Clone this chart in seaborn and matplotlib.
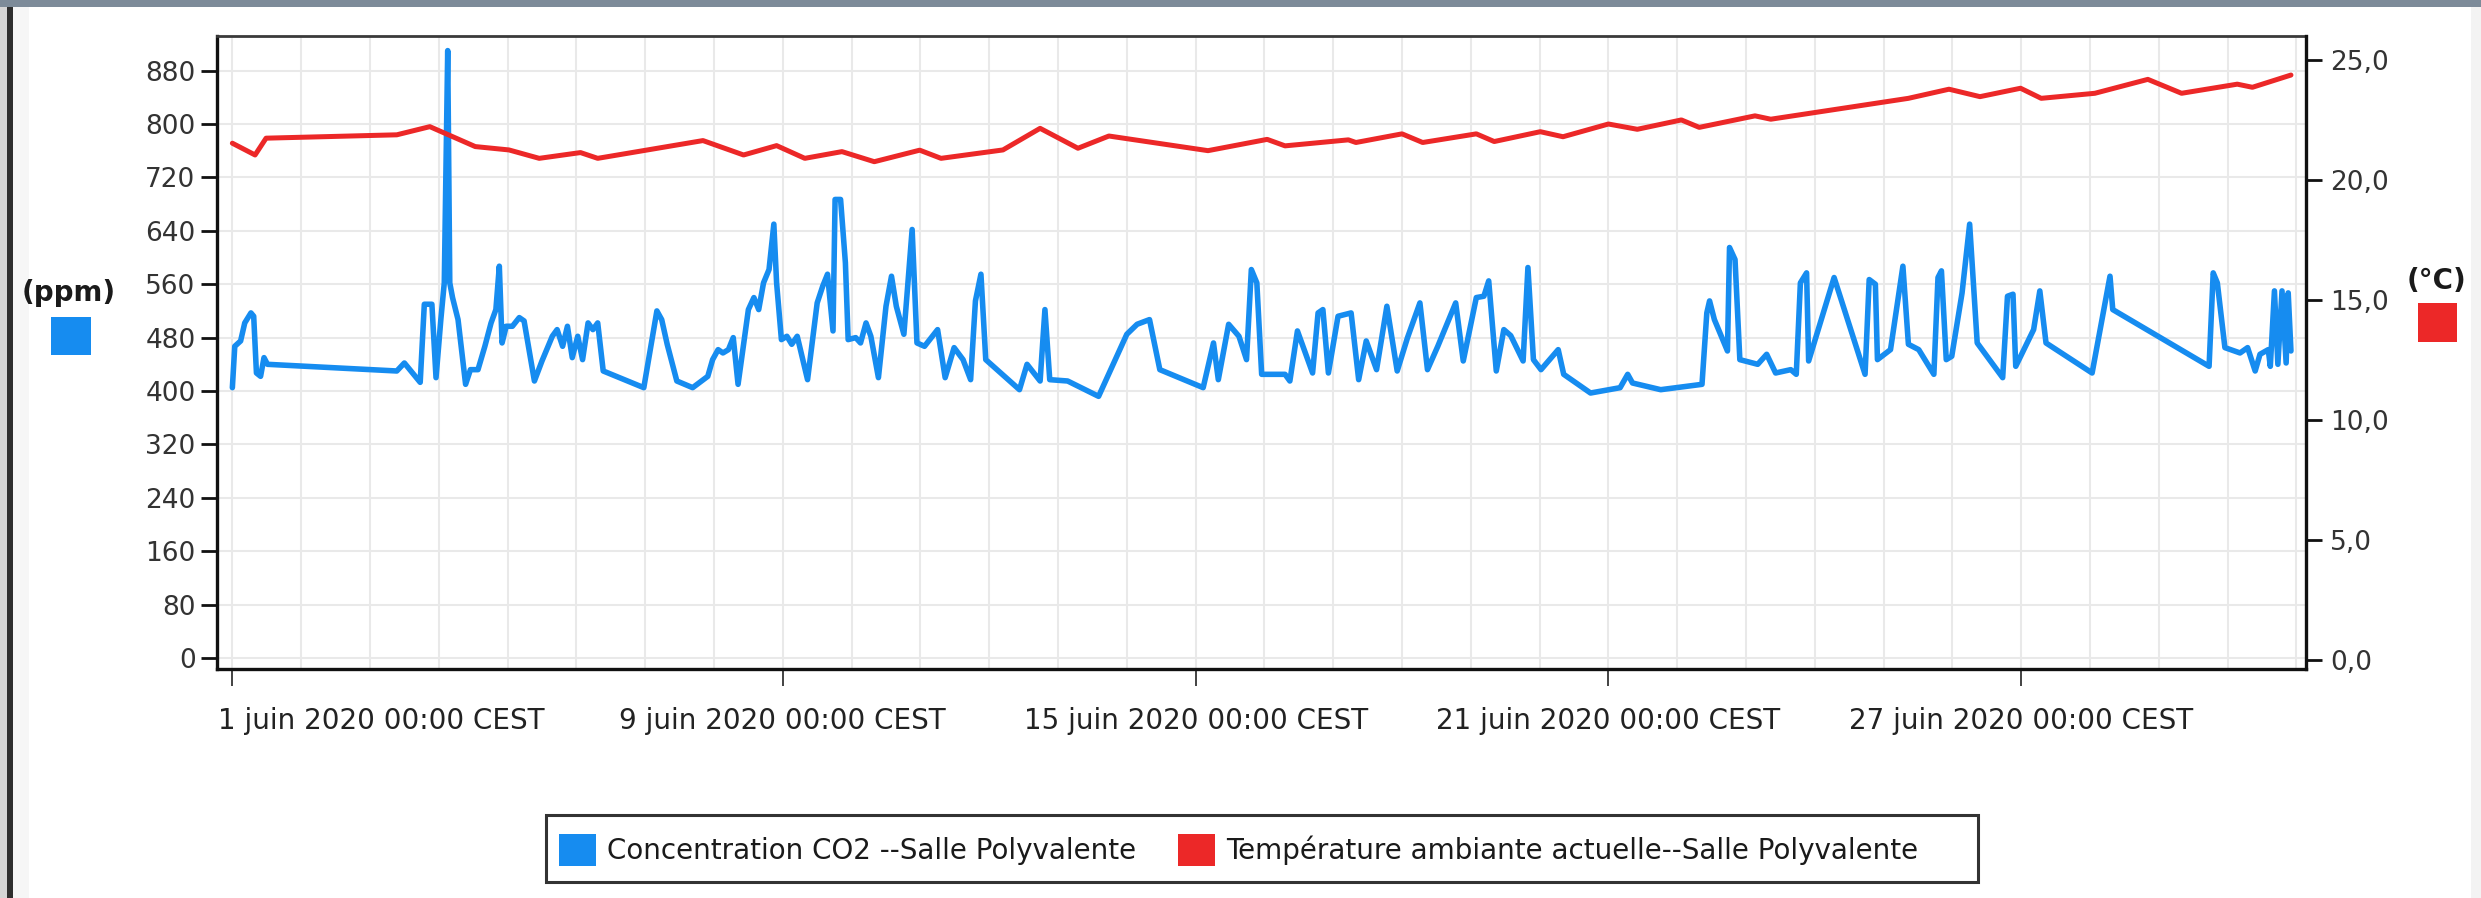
import numpy as np
import pandas as pd
import matplotlib
matplotlib.use("Agg")
import matplotlib.pyplot as plt
import matplotlib.dates as mdates
from matplotlib.patches import Rectangle, Patch
from matplotlib.transforms import ScaledTranslation
import seaborn as sns

# ---------------------------------------------------------------------------
# Measurements, Salle Polyvalente, June 2020 (time in days since 1 June 00:00)
# ---------------------------------------------------------------------------
START = pd.Timestamp("2020-06-01 00:00")

co2_days = [
    0.0, 0.035, 0.12, 0.18, 0.27, 0.31, 0.35, 0.41, 0.46, 0.51, 2.39, 2.5, 2.73,
    2.79, 2.9, 2.96, 3.03, 3.08, 3.13, 3.16, 3.2, 3.28, 3.39, 3.46, 3.57, 3.67,
    3.76, 3.83, 3.88, 3.92, 3.98, 4.07, 4.17, 4.24, 4.39, 4.5, 4.65, 4.72, 4.8,
    4.87, 4.94, 5.02, 5.09, 5.17, 5.24, 5.31, 5.39, 5.98, 6.17, 6.24, 6.32, 6.46,
    6.69, 6.91, 6.98, 7.06, 7.13, 7.21, 7.28, 7.35, 7.5, 7.58, 7.65, 7.72, 7.8,
    7.87, 7.91, 7.98, 8.06, 8.13, 8.21, 8.36, 8.5, 8.58, 8.65, 8.73, 8.76, 8.84,
    8.91, 8.95, 9.06, 9.13, 9.21, 9.28, 9.39, 9.5, 9.58, 9.65, 9.76, 9.88, 9.95,
    10.06, 10.25, 10.36, 10.49, 10.62, 10.73, 10.8, 10.88, 10.95, 11.44, 11.55,
    11.74, 11.81, 11.88, 12.14, 12.59, 13.0, 13.15, 13.33, 13.48, 14.11, 14.26,
    14.33, 14.48, 14.63, 14.74, 14.81, 14.89, 14.96, 15.3, 15.37, 15.48, 15.7,
    15.78, 15.85, 15.93, 16.07, 16.26, 16.37, 16.48, 16.63, 16.78, 16.93, 17.08,
    17.26, 17.37, 17.52, 17.78, 17.89, 18.08, 18.19, 18.26, 18.37, 18.48, 18.58,
    18.76, 18.83, 18.91, 19.02, 19.27, 19.35, 19.74, 20.17, 20.28, 20.35, 20.76,
    21.36, 21.43, 21.47, 21.54, 21.73, 21.76, 21.84, 21.91, 22.17, 22.3, 22.43,
    22.65, 22.73, 22.79, 22.88, 22.91, 23.28, 23.73, 23.79, 23.88, 23.91, 24.1,
    24.28, 24.36, 24.51, 24.73, 24.79, 24.84, 24.91, 24.99, 25.14, 25.25, 25.36,
    25.73, 25.8, 25.88, 25.92, 26.18, 26.27, 26.36, 27.03, 27.29, 27.33, 28.73,
    28.79, 28.85, 28.96, 29.18, 29.29, 29.4, 29.47, 29.59, 29.62, 29.68, 29.73,
    29.79, 29.85, 29.88, 29.92,
]
co2_ppm = [
    405, 467, 475, 502, 517, 512, 427, 422, 450, 440, 430, 442, 413,
    530, 530, 420, 507, 562, 910, 562, 540, 507, 410, 432, 432, 467,
    502, 522, 587, 472, 497, 497, 510, 505, 415, 445, 482, 492, 467,
    497, 450, 482, 447, 502, 492, 502, 430, 405, 520, 507, 470, 415,
    405, 422, 447, 462, 457, 462, 480, 410, 522, 540, 522, 562, 582,
    650, 562, 477, 482, 470, 482, 417, 532, 557, 575, 490, 687, 687,
    592, 477, 480, 472, 502, 482, 420, 527, 572, 527, 485, 642, 472,
    467, 492, 420, 465, 447, 417, 535, 575, 447, 402, 440,
    415, 522, 417, 415, 392, 485, 500, 507, 432, 405, 472,
    417, 500, 482, 447, 582, 562, 425, 425, 415, 490, 427,
    517, 522, 427, 512, 517, 417, 475, 432, 527, 430, 480,
    532, 432, 467, 532, 445, 540, 542, 565, 430, 492, 483,
    445, 585, 447, 432, 462, 425, 397, 405, 425, 412, 402,
    410, 517, 535, 507, 460, 615, 597, 447, 440, 455, 427,
    432, 425, 562, 577, 445, 570, 425, 567, 560, 447, 462,
    587, 470, 462, 425, 570, 580, 447, 452, 547, 650, 472,
    420, 542, 545, 437, 492, 550, 472, 427, 572, 522, 437,
    577, 562, 465, 457, 465, 430, 455, 462, 437, 550, 440,
    550, 442, 547, 460,
]

temp_days = [
    0.0, 0.33, 0.49, 2.39, 2.87, 3.53, 4.02, 4.46, 5.06, 5.31, 6.84, 7.43, 7.91,
    8.32, 8.86, 9.33, 9.99, 10.3, 11.2, 11.74, 12.29, 12.74, 14.18, 15.04, 15.3,
    16.22, 16.33, 17.0, 17.3, 18.08, 18.34, 19.01, 19.34, 20.0, 20.42, 21.06,
    21.32, 22.13, 22.36, 24.36, 24.95, 25.4, 25.99, 26.29, 27.07, 27.84, 28.33,
    29.14, 29.36, 29.92,
]
temp_c = [
    21.53, 21.04, 21.74, 21.88, 22.22, 21.39, 21.25, 20.9, 21.14, 20.9, 21.64,
    21.04, 21.43, 20.9, 21.18, 20.76, 21.24, 20.9, 21.25, 22.15, 21.32, 21.83,
    21.22, 21.69, 21.42, 21.67, 21.56, 21.92, 21.56, 21.92, 21.6, 22.01, 21.8,
    22.33, 22.11, 22.5, 22.19, 22.67, 22.53, 23.4, 23.78, 23.47, 23.82, 23.4,
    23.61, 24.19, 23.61, 23.99, 23.86, 24.37,
]

ppm_ticks = [0, 80, 160, 240, 320, 400, 480, 560, 640, 720, 800, 880]
celsius_ticks = [0, 5, 10, 15, 20, 25]
date_ticks = ["2020-06-01", "2020-06-09", "2020-06-15", "2020-06-21", "2020-06-27"]
date_labels = [
    "1 juin 2020 00:00 CEST",
    "9 juin 2020 00:00 CEST",
    "15 juin 2020 00:00 CEST",
    "21 juin 2020 00:00 CEST",
    "27 juin 2020 00:00 CEST",
]
series_names = [
    "Concentration CO2 --Salle Polyvalente",
    "Température ambiante actuelle--Salle Polyvalente",
]

CO2_COLOR = "#168cf0"
TEMP_COLOR = "#ec2828"

# ---------------------------------------------------------------------------
sns.set_theme(style="white")
plt.rcParams["font.family"] = ["DejaVu Sans"]

W, H = 2481, 898
fig = plt.figure(figsize=(W / 100, H / 100), dpi=100)
fig.patch.set_facecolor("white")

ax = fig.add_axes([0.0875, 0.255, 0.842, 0.705])
ax2 = ax.twinx()

co2 = pd.DataFrame({
    "time": START + pd.to_timedelta(co2_days, unit="D"),
    "ppm": co2_ppm,
})
temp = pd.DataFrame({
    "time": START + pd.to_timedelta(temp_days, unit="D"),
    "celsius": temp_c,
})

sns.lineplot(data=co2, x="time", y="ppm", ax=ax, color=CO2_COLOR,
             linewidth=4.0, estimator=None, sort=False, legend=False)
sns.lineplot(data=temp, x="time", y="celsius", ax=ax2, color=TEMP_COLOR,
             linewidth=3.6, estimator=None, sort=False, legend=False)
for line in ax.get_lines() + ax2.get_lines():
    line.set_solid_joinstyle("round")

ax.set_xlabel("")
ax.set_ylabel("")
ax2.set_ylabel("")

# scales
ax.set_xlim(START - pd.Timedelta(days=0.222), START + pd.Timedelta(days=30.14))
ax.set_ylim(-16.5, 932)
ax2.set_ylim(-0.375, 26.0)

# ticks
ax.set_xticks(pd.to_datetime(date_ticks))
ax.set_xticklabels(date_labels)
ax.xaxis.set_minor_locator(mdates.DayLocator())
ax.set_yticks(ppm_ticks)
ax.set_yticklabels([str(v) for v in ppm_ticks])
ax2.set_yticks(celsius_ticks)
ax2.set_yticklabels([f"{v:.1f}".replace(".", ",") for v in celsius_ticks])

ax.tick_params(axis="x", which="major", bottom=True, direction="out", length=12,
               width=1.2, color="#222222", pad=15, labelsize=20, labelcolor="#222222")
ax.tick_params(axis="x", which="minor", bottom=True, length=0)
ax.tick_params(axis="y", left=True, direction="out", length=11.5, width=2.0,
               color="#111111", pad=4, labelsize=19, labelcolor="#333333")
ax2.tick_params(axis="y", right=True, direction="out", length=11.5, width=2.0,
                color="#111111", pad=6, labelsize=19, labelcolor="#333333")

# grid: daily vertical lines and one horizontal line per ppm tick
ax.grid(True, which="both", axis="x", color="#e9e9e9", linewidth=1.5)
ax.grid(True, which="major", axis="y", color="#e9e9e9", linewidth=1.5)
ax.set_axisbelow(True)

# frame
for name, sp in ax.spines.items():
    sp.set_visible(name in ("left", "bottom", "top"))
    sp.set_color("#111111")
    sp.set_linewidth(2.4)
ax.spines["top"].set_color("#3a3a3a")
ax.spines["top"].set_linewidth(2.0)
for name, sp in ax2.spines.items():
    sp.set_visible(name == "right")
    sp.set_color("#111111")
    sp.set_linewidth(2.4)

# first date label starts at the left edge of the plot area
first = ax.xaxis.get_major_ticks()[0].label1
first.set_horizontalalignment("left")
first.set_transform(first.get_transform()
                    + ScaledTranslation(-14 / 100, 0, fig.dpi_scale_trans))

# unit labels with colour keys beside each y axis
fig.text(0.0278, 0.6737, "(ppm)", ha="center", va="center", fontsize=20,
         fontweight="bold", color="#1a1a1a")
fig.add_artist(Rectangle((0.02056, 0.6047), 0.01612, 0.0423,
                         transform=fig.transFigure, facecolor=CO2_COLOR,
                         edgecolor="none"))
fig.text(0.9819, 0.6871, "(°C)", ha="center", va="center", fontsize=20,
         fontweight="bold", color="#1a1a1a")
fig.add_artist(Rectangle((0.9748, 0.6192), 0.01552, 0.0434,
                         transform=fig.transFigure, facecolor=TEMP_COLOR,
                         edgecolor="none"))

# legend (entries) and its box
handles = [Patch(facecolor=CO2_COLOR, edgecolor="none"),
           Patch(facecolor=TEMP_COLOR, edgecolor="none")]
leg = fig.legend(handles, series_names, loc="center left",
                 bbox_to_anchor=(559 / W, 1 - 850 / H), ncol=2, frameon=False,
                 fontsize=20, handlelength=1.33, handleheight=1.44,
                 handletextpad=0.4, columnspacing=1.5, borderpad=0.0,
                 borderaxespad=0.0)
for t in leg.get_texts():
    t.set_color("#1a1a1a")
fig.add_artist(Rectangle((546 / W, 1 - 882 / H), (1978 - 546) / W, 67 / H,
                         transform=fig.transFigure, facecolor="none",
                         edgecolor="#333333", linewidth=2.2))

# window border around the panel
fig.add_artist(Rectangle((0, 0), 7 / W, 1, transform=fig.transFigure,
                         facecolor="#d4d4d4", edgecolor="none"))
fig.add_artist(Rectangle((7 / W, 0), 6 / W, 1, transform=fig.transFigure,
                         facecolor="#2e2e2e", edgecolor="none"))
fig.add_artist(Rectangle((13 / W, 0), 16 / W, 1, transform=fig.transFigure,
                         facecolor="#f6f6f6", edgecolor="none"))
fig.add_artist(Rectangle((2471 / W, 0), 10 / W, 1, transform=fig.transFigure,
                         facecolor="#f3f3f3", edgecolor="none"))
fig.add_artist(Rectangle((0, 1 - 7 / H), 1, 7 / H, transform=fig.transFigure,
                         facecolor="#7d8b99", edgecolor="none"))

fig.savefig("out.png", dpi=100)
